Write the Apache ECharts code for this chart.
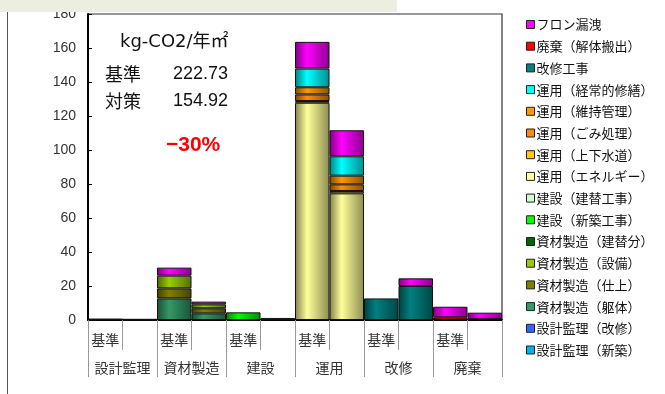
<!DOCTYPE html>
<html>
<head>
<meta charset="utf-8">
<script src="https://cdn.jsdelivr.net/npm/echarts@6/dist/echarts.min.js"></script>
<style>
  html, body { margin: 0; padding: 0; background: #fff; }
  #chart { width: 665px; height: 394px; }
</style>
</head>
<body>
<div id="chart"></div>
<script>
// 12 slots: each stage has a 基準 bar then a 対策 bar
const groups = ["設計監理", "資材製造", "建設", "運用", "改修", "廃棄"];
const slotLabels = ["基準", "", "基準", "", "基準", "", "基準", "", "基準", "", "基準", ""];
const yTicks = { min: 0, max: 180, step: 20 };

// stacked series, bottom of the stack first
const seriesNames = [
    "設計監理（新築）", "設計監理（改修）",
    "資材製造（躯体）", "資材製造（仕上）", "資材製造（設備）", "資材製造（建替分）",
    "建設（新築工事）", "建設（建替工事）",
    "運用（エネルギー）", "運用（上下水道）", "運用（ごみ処理）", "運用（維持管理）", "運用（経常的修繕）",
    "改修工事", "廃棄（解体搬出）", "フロン漏洩"
];
const seriesColors = [
    "#00B0F0", "#3366FF",
    "#339966", "#808000", "#99CC00", "#006600",
    "#00FF00", "#CCFFCC",
    "#FFFF99", "#FFCC00", "#FF8C00", "#FF9900", "#00FFFF",
    "#008080", "#FF0000", "#FF00FF"
];
const _ = null;
const sekkeiShinchiku = [0.4, 0.3, _, _, _, _, _, _, _, _, _, _];
const sekkeiKaishu    = [0.1, 0.1, _, _, _, _, _, _, _, _, _, _];
const shizaiKutai     = [_, _, 12.7, 3.9, _, _, _, _, _, _, _, _];
const shizaiShiage    = [_, _, 5.9, 3.0, _, _, _, _, _, _, _, _];
const shizaiSetsubi   = [_, _, 7.5, 2.3, _, _, _, _, _, _, _, _];
const shizaiTatekae   = [_, _, _, _, _, _, _, _, _, _, _, _];
const kensetsuShin    = [_, _, _, _, 4.5, 1.2, _, _, _, _, _, _];
const kensetsuTate    = [_, _, _, _, _, _, _, _, _, _, _, _];
const unyoEnergy      = [_, _, _, _, _, _, 127.8, 74.5, _, _, _, _];
const unyoWater       = [_, _, _, _, _, _, 1.0, 1.4, _, _, _, _];
const unyoGomi        = [_, _, _, _, _, _, 3.9, 3.9, _, _, _, _];
const unyoIji         = [_, _, _, _, _, _, 4.2, 5.1, _, _, _, _];
const unyoShuzen      = [_, _, _, _, _, _, 11.0, 11.4, _, _, _, _];
const kaishuKoji      = [_, _, _, _, _, _, _, _, 12.7, 20.0, _, _];
const haiki           = [_, _, _, _, _, _, _, _, _, _, 1.6, 0.5];
const freon           = [_, _, 4.7, 1.6, _, _, 15.7, 15.3, _, 4.5, 6.2, 3.8];
const seriesData = [
    sekkeiShinchiku, sekkeiKaishu,
    shizaiKutai, shizaiShiage, shizaiSetsubi, shizaiTatekae,
    kensetsuShin, kensetsuTate,
    unyoEnergy, unyoWater, unyoGomi, unyoIji, unyoShuzen,
    kaishuKoji, haiki, freon
];

const FONT = "'Liberation Sans', 'Noto Sans CJK JP', sans-serif";
const JP = "'Noto Sans CJK JP', 'Liberation Sans', sans-serif";

// darker tone of a colour for the bar shading
const shade = (hex, f) => {
    const n = parseInt(hex.slice(1), 16);
    const r = Math.round(((n >> 16) & 255) * f);
    const g = Math.round(((n >> 8) & 255) * f);
    const b = Math.round((n & 255) * f);
    return `rgb(${r},${g},${b})`;
};
const barFill = (hex) => new echarts.graphic.LinearGradient(0, 0, 1, 0, [
    { offset: 0, color: shade(hex, 0.5) },
    { offset: 0.35, color: hex },
    { offset: 1, color: shade(hex, 0.55) }
]);

const chart = echarts.init(document.getElementById("chart"), null, { renderer: "canvas" });
chart.setOption({
    backgroundColor: "#fff",
    animation: false,
    textStyle: { fontFamily: FONT },
    grid: { left: 88, right: 163, top: 14, bottom: 74, show: true, borderColor: "#333", borderWidth: 1.2 },
    legend: {
        orient: "vertical",
        left: 521,
        top: 13,
        itemWidth: 8,
        itemHeight: 8,
        itemGap: 8.7,
        icon: "rect",
        textStyle: { fontSize: 13, color: "#111", fontFamily: JP, padding: [0, 0, 0, -3] },
        data: seriesNames.map((name, i) => ({
            name,
            itemStyle: { color: seriesColors[i], borderColor: "#222", borderWidth: 1 }
        })).reverse()
    },
    xAxis: [
        {
            type: "category",
            data: slotLabels,
            position: "bottom",
            axisLine: { lineStyle: { color: "#000", width: 2 } },
            axisTick: { show: true, interval: 0, alignWithLabel: false, length: 30, lineStyle: { color: "#999" } },
            axisLabel: { interval: 0, margin: 13, fontSize: 14, color: "#333", fontFamily: JP }
        },
        {
            type: "category",
            data: groups,
            position: "bottom",
            axisLine: { show: false },
            axisTick: { show: true, interval: 0, alignWithLabel: false, length: 57, lineStyle: { color: "#999" } },
            axisLabel: { interval: 0, margin: 41, fontSize: 14, color: "#333", fontFamily: JP }
        }
    ],
    yAxis: {
        type: "value",
        min: yTicks.min,
        max: yTicks.max,
        interval: yTicks.step,
        axisLine: { show: true, lineStyle: { color: "#000", width: 2 } },
        axisTick: { show: true, inside: true, length: 4, lineStyle: { color: "#000" } },
        axisLabel: { fontSize: 14, color: "#333", margin: 12 },
        splitLine: { show: false }
    },
    series: seriesNames.map((name, i) => ({
        name,
        type: "bar",
        stack: "total",
        xAxisIndex: 0,
        barWidth: "100%",
        barCategoryGap: 0,
        itemStyle: { color: barFill(seriesColors[i]), borderColor: "#111", borderWidth: 1 },
        emphasis: { disabled: true },
        data: seriesData[i]
    })),
    graphic: [
        { type: "rect", left: 0, top: 0, z: 100, shape: { width: 397, height: 12 }, style: { fill: "#ECEEE0" } },
        { type: "line", z: 100, shape: { x1: 7.5, y1: 12, x2: 7.5, y2: 394 }, style: { stroke: "#555", lineWidth: 1 } },
        { type: "text", z: 100, style: { text: "kg-CO2/年㎡", x: 120, y: 42, font: `18px 'DejaVu Sans', 'Noto Sans CJK JP', sans-serif`, fill: "#111", verticalAlign: "middle" } },
        { type: "text", z: 100, style: { text: "基準", x: 105, y: 74, font: `18px ${JP}`, fill: "#111", verticalAlign: "middle" } },
        { type: "text", z: 100, style: { text: "222.73", x: 173, y: 74, font: `18px ${FONT}`, fill: "#111", verticalAlign: "middle" } },
        { type: "text", z: 100, style: { text: "対策", x: 105, y: 101, font: `18px ${JP}`, fill: "#111", verticalAlign: "middle" } },
        { type: "text", z: 100, style: { text: "154.92", x: 173, y: 101, font: `18px ${FONT}`, fill: "#111", verticalAlign: "middle" } },
        { type: "text", z: 100, style: { text: "−30%", x: 166, y: 145, font: `bold 21px ${FONT}`, fill: "#FF0000", verticalAlign: "middle" } }
    ]
});
</script>
</body>
</html>
